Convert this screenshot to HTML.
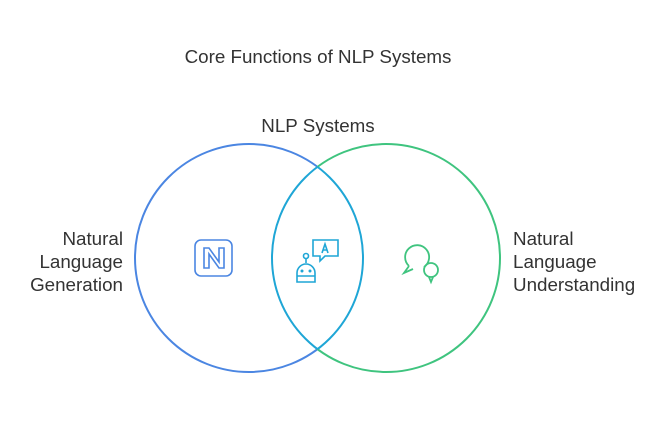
<!DOCTYPE html>
<html><head><style>
body{margin:0;background:#fff;}
svg text{font-family:"Liberation Sans",sans-serif;fill:#333;font-size:18.8px;}
</style></head><body>
<svg width="670" height="420" viewBox="0 0 670 420">
<defs>
<clipPath id="inR"><circle cx="386" cy="258" r="114"/></clipPath>
<clipPath id="inL"><circle cx="249" cy="258" r="114"/></clipPath>
<mask id="outR"><rect width="670" height="420" fill="#fff"/><circle cx="386" cy="258" r="114" fill="#000"/></mask>
<mask id="outL"><rect width="670" height="420" fill="#fff"/><circle cx="249" cy="258" r="114" fill="#000"/></mask>
</defs>
<circle cx="249" cy="258" r="114" fill="none" stroke="#4b86e2" stroke-width="2" mask="url(#outR)"/>
<circle cx="386" cy="258" r="114" fill="none" stroke="#3fc47f" stroke-width="2" mask="url(#outL)"/>
<circle cx="249" cy="258" r="114" fill="none" stroke="#1fa6d6" stroke-width="2" clip-path="url(#inR)"/>
<circle cx="386" cy="258" r="114" fill="none" stroke="#1fa6d6" stroke-width="2" clip-path="url(#inL)"/>
<text x="318" y="63" text-anchor="middle">Core Functions of NLP Systems</text>
<text x="318" y="132" text-anchor="middle">NLP Systems</text>
<text x="123" y="245" text-anchor="end">Natural</text>
<text x="123" y="268" text-anchor="end">Language</text>
<text x="123" y="291" text-anchor="end">Generation</text>
<text x="513" y="245">Natural</text>
<text x="513" y="268">Language</text>
<text x="513" y="291">Understanding</text>
<g fill="none" stroke="#4b86e2" stroke-width="1.6">
<rect x="195" y="240" width="37" height="36" rx="6"/>
<path d="M204 268V248h5l10 14v-14h5v20h-5l-10-14v14z"/>
</g>
<g fill="none" stroke="#1fa6d6" stroke-width="1.6">
<path d="M313 240h25v16h-13l-5 5v-5h-7z"/>
<path d="M322 253l3-9 3 9M323 250h4"/>
<circle cx="306" cy="256" r="2.5"/>
<path d="M306 259v4"/>
<path d="M297 282v-9a9 9 0 0 1 18 0v9z"/>
<path d="M297 276h18"/>
</g>
<circle cx="302" cy="271" r="1.5" fill="#1fa6d6"/><circle cx="310" cy="271" r="1.5" fill="#1fa6d6"/>
<g fill="none" stroke="#3fc47f" stroke-width="1.8">
<path d="M409 266a12 12 0 1 1 15 1"/>
<path d="M409 266l-5 7 9-4"/>
<circle cx="431" cy="270" r="7"/>
<path d="M429 277l2 5 2-5"/>
</g>
</svg>
</body></html>
